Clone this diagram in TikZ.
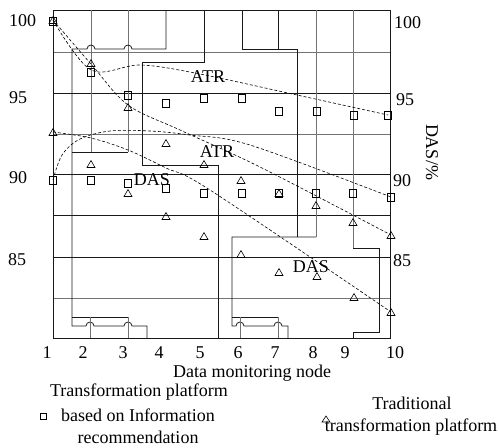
\documentclass[tikz,border=0pt]{standalone}
\usepackage{fontspec}
\setmainfont{Liberation Serif}
\newcommand\mksq[2]{\draw[marker] (#1-3.5,#2-4) rectangle (#1+3.5,#2+4);}
\newcommand\mktri[2]{\draw[marker] (#1-4,#2+3.5) -- (#1+4,#2+3.5) -- (#1,#2-3.5) -- cycle;}
\begin{document}
\begin{tikzpicture}[x=1pt,y=-1pt,
  font=\fontsize{18}{20}\selectfont,
  struct/.style={line width=0.8pt, black!90},
  lightline/.style={line width=0.8pt, black!55},
  gridlight/.style={line width=0.8pt, black!55},
  griddark/.style={line width=0.8pt, black!90},
  curve/.style={line width=0.6pt, black, dash pattern=on 3pt off 2pt, smooth, tension=0.55},
  marker/.style={line width=0.6pt, black},
  lbl/.style={inner sep=0pt, anchor=base}]
\useasboundingbox (0,0) rectangle (499,448);
% horizontal grid lines
\foreach \yy in {52,134,298} \draw[gridlight] (53,\yy) -- (390,\yy);
\foreach \yy in {93,174,215,257} \draw[griddark] (53,\yy) -- (390,\yy);
% frame
\draw[struct] (53,10) rectangle (390,338);
% top-left structure
\draw[lightline] (91,10) -- (91,152);
\draw[lightline] (128,10) -- (128,152);
\draw[struct] (72,152) -- (128,152);
\draw[struct] (166,10) -- (166,49) -- (132,49) arc[start angle=0, end angle=-180, radius=4]
  -- (95,49) arc[start angle=0, end angle=-180, radius=4] -- (72,49) -- (72,326)
  -- (86,326) arc[start angle=180, end angle=360, radius=4]
  -- (124,326) arc[start angle=180, end angle=360, radius=4] -- (147,326) -- (147,338);
\draw[struct] (72,317) -- (128,317);
\draw[lightline] (90,317) -- (90,338);
\draw[lightline] (128,317) -- (128,338);
% centre structure
\draw[struct] (204,10) -- (204,62) -- (142,62) -- (142,165) -- (218,165) -- (218,338);
% right-top structure
\draw[struct] (242,10) -- (242,49) -- (297,49) -- (297,237);
\draw[struct] (278,10) -- (278,49);
\draw[lightline] (316,10) -- (316,237);
\draw[struct] (316,237) -- (232,237) -- (232,326)
  -- (236,326) arc[start angle=180, end angle=360, radius=4]
  -- (274,326) arc[start angle=180, end angle=360, radius=4] -- (288,326) -- (288,338);
\draw[struct] (232,317) -- (278,317);
\draw[lightline] (240,317) -- (240,338);
\draw[lightline] (278,317) -- (278,338);
% right structure
\draw[lightline] (353,10) -- (353,248);
\draw[struct] (353,248) -- (379,248) -- (379,332) -- (353,332) -- (353,338);
% dashed curves
\draw[curve] plot coordinates {(53,20) (91,70) (140,65) (195,73) (297,95) (388,115)};
\draw[curve] plot coordinates {(53,20) (91,64) (128,105) (180,130) (260,167) (391,235)};
\draw[curve] plot coordinates {(53,132) (91,138) (128,150) (166,168) (210,190) (391,312)};
\draw[curve] plot coordinates {(53,180) (62,155) (80,139) (110,131) (150,131) (190,135) (250,145) (391,197)};
% squares
\mksq{53}{21}\mksq{53}{180}\mksq{91}{72}\mksq{91}{180}\mksq{128}{95}\mksq{128}{183}
\mksq{166}{103}\mksq{166}{188}\mksq{204}{98}\mksq{204}{193}\mksq{242}{98}\mksq{242}{193}
\mksq{279}{111}\mksq{279}{193}\mksq{317}{111}\mksq{316}{193}\mksq{354}{115}\mksq{353}{193}
\mksq{388}{115}\mksq{391}{197}
% triangles
\mktri{53}{20}\mktri{53}{132}\mktri{91}{63}\mktri{91}{164}\mktri{128}{107}\mktri{128}{193}
\mktri{166}{143}\mktri{166}{216}\mktri{204}{164}\mktri{204}{236}\mktri{241}{180}\mktri{241}{254}
\mktri{279}{193}\mktri{279}{272}\mktri{316}{205}\mktri{317}{276}\mktri{353}{222}\mktri{354}{297}
\mktri{391}{235}\mktri{391}{312}
% curve labels
\node[lbl] (atr1) at (208,82) {ATR};
\node[lbl] (atr2) at (217,157) {ATR};
\node[lbl] (das1) at (152,185) {DAS};
\node[lbl] (das2) at (311,272) {DAS};
% left axis labels
\node[lbl, anchor=base west] (l100) at (9,26) {100};
\node[lbl, anchor=base west] (l95) at (9,103) {95};
\node[lbl, anchor=base west] (l90) at (9,183) {90};
\node[lbl, anchor=base west] (l85) at (8,265) {85};
% right axis labels
\node[lbl, anchor=base west] (r100) at (394,28) {100};
\node[lbl, anchor=base west] (r95) at (396,105) {95};
\node[lbl, anchor=base west] (r90) at (393,186) {90};
\node[lbl, anchor=base west] (r85) at (393,266) {85};
\node[inner sep=0pt, rotate=-90] (ylab) at (432,152) {DAS/\%};
% x tick labels
\foreach \xx/\tt [count=\i] in {47/1,83/2,123/3,159/4,200/5,238/6,275/7,313/8,345/9,395/10}
  \node[lbl] (xt\i) at (\xx,358) {\tt};
\node[lbl] (xlab) at (252,377) {Data monitoring node};
% legend
\draw[marker] (40,413) rectangle (46,419);
\node[lbl] (leg1a) at (139,396) {Transformation platform};
\node[lbl] (leg1b) at (138,421) {based on Information};
\node[lbl] (leg1c) at (138,443) {recommendation};
\draw[marker] (322,422) -- (330,422) -- (326,416) -- cycle;
\node[lbl] (leg2a) at (412,409) {Traditional};
\node[lbl] (leg2b) at (411,431) {transformation platform};
\end{tikzpicture}
\end{document}
